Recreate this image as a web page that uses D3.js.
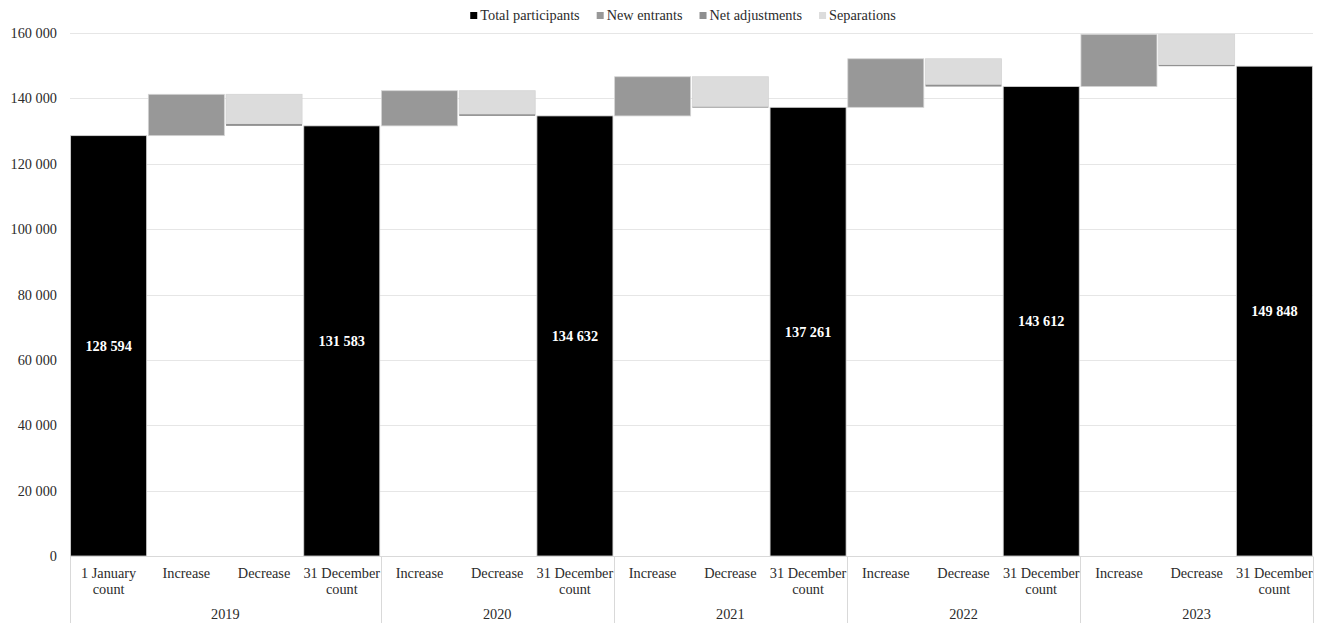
<!DOCTYPE html>
<html>
<head>
<meta charset="utf-8">
<script src="https://cdn.jsdelivr.net/npm/d3@7"></script>
<style>
  html, body { margin: 0; padding: 0; background: #fff; }
  svg text { font-family: "Liberation Serif", "Times New Roman", Tinos, "DejaVu Serif", serif !important; }
</style>
</head>
<body>
<svg id="chart" width="1318" height="623"></svg>
<script>
// Participant counts by year (waterfall: opening count, increase, decrease, closing count)
const years = ["2019", "2020", "2021", "2022", "2023"];
const openingCount = 128594;
const closingCounts = [131583, 134632, 137261, 143612, 149848];
const newEntrants = [12650, 10760, 11990, 14860, 15980];
const separations = [9091, 7221, 9211, 7959, 9394];
const netAdjustments = [570, 490, 150, 550, 350];

const seriesNames = ["Total participants", "New entrants", "Net adjustments", "Separations"];
const seriesColors = ["#000000", "#989898", "#8f8f8f", "#dcdcdc"];
const yTicks = [0, 20000, 40000, 60000, 80000, 100000, 120000, 140000, 160000];

const W = 1318, H = 623;
const margin = { left: 70, right: 5, top: 33, bottom: 67 };
const textColor = "#2b2b2b";
const fontSize = 14.3;
const svg = d3.select("#chart");

// Column keys: the first year also has an opening column
const columns = [];
years.forEach((yr, i) => {
  if (i === 0) columns.push({ key: yr + "-open", year: yr, label: ["1 January", "count"] });
  columns.push({ key: yr + "-inc", year: yr, label: ["Increase"] });
  columns.push({ key: yr + "-dec", year: yr, label: ["Decrease"] });
  columns.push({ key: yr + "-close", year: yr, label: ["31 December", "count"] });
});

const x = d3.scaleBand()
  .domain(columns.map(c => c.key))
  .range([margin.left, W - margin.right])
  .paddingInner(0.022)
  .paddingOuter(0.008);

const y = d3.scaleLinear()
  .domain([0, 160000])
  .range([H - margin.bottom, margin.top]);

const fmt = v => d3.format(",")(v).replace(/,/g, " ");

// Gridlines
svg.append("g")
  .selectAll("line")
  .data(yTicks)
  .join("line")
  .attr("x1", margin.left)
  .attr("x2", W - margin.right)
  .attr("y1", d => Math.round(y(d)) + 0.5)
  .attr("y2", d => Math.round(y(d)) + 0.5)
  .attr("stroke", "#e6e6e6")
  .attr("stroke-width", 1);

// Y axis labels
const yAxis = d3.axisLeft(y).tickValues(yTicks).tickFormat(fmt).tickSize(0).tickPadding(13);
svg.append("g")
  .attr("transform", `translate(${margin.left},0)`)
  .call(yAxis)
  .call(g => g.attr("font-family", null).attr("font-size", null))
  .call(g => g.select(".domain").remove())
  .call(g => g.selectAll("text")
    .attr("font-size", fontSize)
    .attr("fill", textColor));

// Build bar segments
const segments = [];
years.forEach((yr, i) => {
  const prev = i === 0 ? openingCount : closingCounts[i - 1];
  if (i === 0) segments.push({ key: yr + "-open", s: 0, y0: 0, y1: openingCount, label: openingCount });
  const top = prev + newEntrants[i];
  segments.push({ key: yr + "-inc", s: 1, y0: prev, y1: top });
  segments.push({ key: yr + "-dec", s: 3, y0: top - separations[i], y1: top });
  segments.push({ key: yr + "-dec", s: 2, y0: closingCounts[i], y1: closingCounts[i] + netAdjustments[i] });
  segments.push({ key: yr + "-close", s: 0, y0: 0, y1: closingCounts[i], label: closingCounts[i] });
});

svg.append("g")
  .selectAll("rect")
  .data(segments)
  .join("rect")
  .attr("x", d => x(d.key))
  .attr("width", x.bandwidth())
  .attr("y", d => y(d.y1))
  .attr("height", d => Math.max(0.8, y(d.y0) - y(d.y1)))
  .attr("fill", d => seriesColors[d.s])
  .attr("stroke", d => d.s === 2 ? "none" : "#d4d4d4")
  .attr("stroke-width", 0.8);

// Value labels inside total bars
svg.append("g")
  .selectAll("text")
  .data(segments.filter(d => d.label !== undefined))
  .join("text")
  .attr("x", d => x(d.key) + x.bandwidth() / 2)
  .attr("y", d => y(d.y1 / 2))
  .attr("dy", "0.35em")
  .attr("text-anchor", "middle")
  .attr("font-size", fontSize)
  .attr("font-weight", "bold")
  .attr("fill", "#ffffff")
  .text(d => fmt(d.label));

// Baseline
const baseY = Math.round(y(0)) + 0.5;
svg.append("line")
  .attr("x1", margin.left).attr("x2", W - margin.right)
  .attr("y1", baseY).attr("y2", baseY)
  .attr("stroke", "#d9d9d9");

// Category labels
const step = x.step();
const catG = svg.append("g");
columns.forEach(c => {
  const cx = x(c.key) + x.bandwidth() / 2;
  const t = catG.append("text")
    .attr("x", cx)
    .attr("y", baseY + 21)
    .attr("text-anchor", "middle")
    .attr("font-size", fontSize)
    .attr("fill", textColor);
  c.label.forEach((line, k) => {
    t.append("tspan").attr("x", cx).attr("dy", k === 0 ? 0 : 16).text(line);
  });
});

// Year groups with separators
const groupBounds = years.map(yr => {
  const keys = columns.filter(c => c.year === yr).map(c => c.key);
  const x0 = x(keys[0]) - (step - x.bandwidth()) / 2;
  const x1 = x(keys[keys.length - 1]) + x.bandwidth() + (step - x.bandwidth()) / 2;
  return { yr, x0, x1 };
});
groupBounds[0].x0 = margin.left;
groupBounds[groupBounds.length - 1].x1 = W - margin.right;

const sepX = [groupBounds[0].x0].concat(groupBounds.map(g => g.x1));
svg.append("g")
  .selectAll("line")
  .data(sepX)
  .join("line")
  .attr("x1", d => Math.round(d) + 0.5)
  .attr("x2", d => Math.round(d) + 0.5)
  .attr("y1", baseY)
  .attr("y2", H)
  .attr("stroke", "#d9d9d9");

svg.append("g")
  .selectAll("text")
  .data(groupBounds)
  .join("text")
  .attr("x", d => (d.x0 + d.x1) / 2)
  .attr("y", baseY + 62)
  .attr("text-anchor", "middle")
  .attr("font-size", fontSize)
  .attr("fill", textColor)
  .text(d => d.yr);

// Legend
const legendItems = seriesNames.map((n, i) => ({ name: n, color: seriesColors[i] }));
const legend = svg.append("g");
let lx = 0;
const gap = 17;
legendItems.forEach(it => {
  const g = legend.append("g").attr("transform", `translate(${lx},0)`);
  g.append("rect").attr("x", 0).attr("y", -8).attr("width", 7).attr("height", 7).attr("fill", it.color);
  const t = g.append("text").attr("x", 10).attr("y", 0).attr("font-size", fontSize).attr("fill", textColor).text(it.name);
  const w = t.node().getComputedTextLength();
  lx += 10 + w + gap;
});
const legendWidth = lx - gap;
legend.attr("transform", `translate(${683 - legendWidth / 2},20)`);
</script>
</body>
</html>
